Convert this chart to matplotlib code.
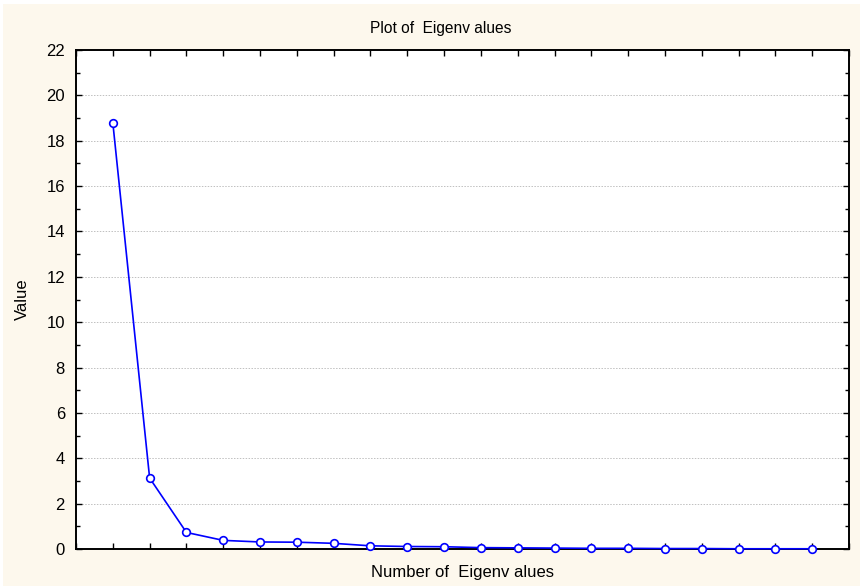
import matplotlib
matplotlib.use("Agg")
from matplotlib import pyplot as plt
from matplotlib.patches import Rectangle
from matplotlib.ticker import MultipleLocator, NullFormatter

plt.rcParams['font.family'] = ['Liberation Sans', 'DejaVu Sans']

# eigenvalues in order, one per component
eigen_number = list(range(1, 21))
eigen_values = [18.8, 3.13, 0.73, 0.38, 0.31, 0.30, 0.25, 0.14, 0.11, 0.10,
                0.06, 0.05, 0.04, 0.03, 0.03, 0.02, 0.02, 0.01, 0.01, 0.01]

bg = '#fdf8ed'

fig = plt.figure(figsize=(8.6, 5.86), dpi=100)
fig.patch.set_facecolor('white')
# cream panel behind everything, leaving a thin white edge top/left
fig.patches.append(Rectangle((3 / 860, 0), 1, 1 - 4 / 586, transform=fig.transFigure,
                             facecolor=bg, edgecolor='none', zorder=-1))

ax = fig.add_axes([76 / 860, 37 / 586, 773 / 860, 499 / 586])
ax.set_facecolor('white')

ax.plot(eigen_number, eigen_values, color='#0000ff', linewidth=1.2,
        marker='o', markersize=5.5, markerfacecolor='white',
        markeredgecolor='#0000ff', markeredgewidth=1.2, clip_on=False, zorder=3)

ax.set_xlim(0, 21)
ax.set_ylim(0, 22)
ax.xaxis.set_major_locator(MultipleLocator(1))
ax.xaxis.set_major_formatter(NullFormatter())
ax.yaxis.set_major_locator(MultipleLocator(2))
ax.yaxis.set_minor_locator(MultipleLocator(1))

ax.tick_params(axis='both', which='both', direction='in', top=True, right=True,
               color='black', width=1.0)
ax.tick_params(axis='both', which='major', length=4, labelsize=12, pad=8)
ax.tick_params(axis='y', which='minor', length=3)

for s in ax.spines.values():
    s.set_linewidth(1.4)
    s.set_color('black')

ax.yaxis.grid(True, which='major', linestyle=(0, (1.5, 1.5)), color='#c0c0c0', linewidth=0.7)
ax.set_axisbelow(True)

ax.set_ylabel('Value', fontsize=12)
ax.yaxis.set_label_coords(-46 / 773, 0.5)
ax.set_xlabel('Number of  Eigenv alues', fontsize=12, va='center')
ax.xaxis.set_label_coords(0.5, -24 / 499)
fig.text(441 / 860, 1 - 28 / 586, 'Plot of  Eigenv alues', ha='center', va='center',
         fontsize=11.2)

fig.savefig('out.png', dpi=100, facecolor=fig.get_facecolor())
